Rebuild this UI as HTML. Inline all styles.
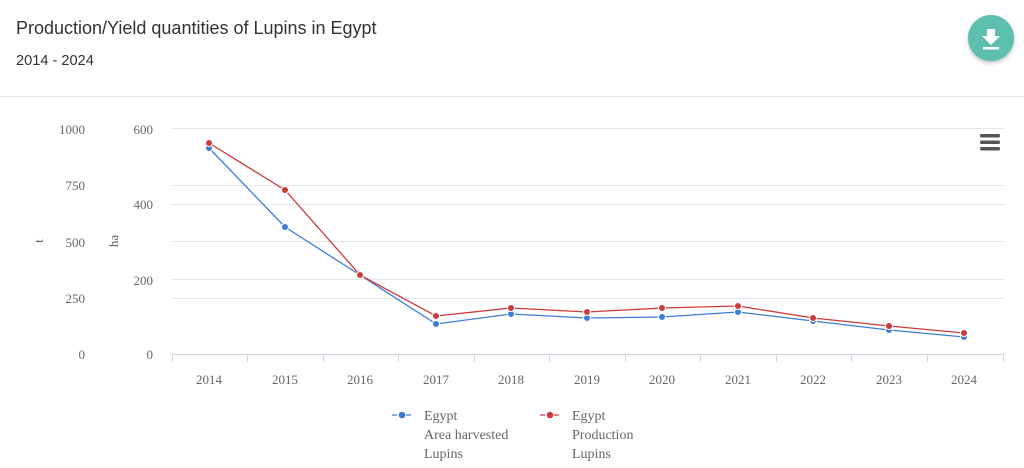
<!DOCTYPE html>
<html><head><meta charset="utf-8"><style>
body{margin:0;width:1024px;height:468px;background:#fff;font-family:"Liberation Sans",sans-serif;overflow:hidden;position:relative}
.t{position:absolute;left:16px;top:18px;font-size:18px;color:#333}
.s{position:absolute;left:16px;top:53px;font-size:14.6px;color:#333}
.hr{position:absolute;left:0;top:96px;width:1024px;height:1px;background:#e6e6e6}
.btn{position:absolute;left:968px;top:15px;width:46px;height:46px;border-radius:50%;background:#5dbfae;box-shadow:0 2px 4px rgba(0,0,0,.25)}
</style></head><body>
<div class="t">Production/Yield quantities of Lupins in Egypt</div>
<div class="s">2014 - 2024</div>
<div class="hr"></div>
<div class="btn"><svg width="46" height="46"><path d="M19 14h8v7h5l-9 9-9-9h5z" fill="#fff"/><rect x="15" y="32" width="16" height="2.5" fill="#fff"/></svg></div>
<svg width="1024" height="468" style="position:absolute;left:0;top:0" font-family="Liberation Serif,serif" font-size="13" fill="#666">
<g stroke="#e6e6e6" stroke-width="1">
<line x1="172" x2="1004" y1="128.5" y2="128.5"/><line x1="172" x2="1004" y1="185.5" y2="185.5"/>
<line x1="172" x2="1004" y1="204.5" y2="204.5"/><line x1="172" x2="1004" y1="241.5" y2="241.5"/>
<line x1="172" x2="1004" y1="279.5" y2="279.5"/><line x1="172" x2="1004" y1="298.5" y2="298.5"/>
</g>
<g stroke="#ccd6eb"><line x1="172" x2="1004" y1="354.5" y2="354.5"/>
<path d="M172.5 354v8M247.5 354v8M323.5 354v8M398.5 354v8M474.5 354v8M549.5 354v8M625.5 354v8M700.5 354v8M776.5 354v8M851.5 354v8M927.5 354v8M1003.5 354v8"/></g>
<g text-anchor="end"><text x="85" y="134">1000</text><text x="85" y="190">750</text><text x="85" y="247">500</text><text x="85" y="303">250</text><text x="85" y="359">0</text>
<text x="153" y="134">600</text><text x="153" y="209">400</text><text x="153" y="285">200</text><text x="153" y="359">0</text></g>
<text transform="translate(43,241) rotate(-90)" text-anchor="middle">t</text>
<text transform="translate(118,241) rotate(-90)" text-anchor="middle">ha</text>
<g text-anchor="middle"><text x="209" y="384">2014</text><text x="285" y="384">2015</text><text x="360" y="384">2016</text><text x="436" y="384">2017</text><text x="511" y="384">2018</text><text x="587" y="384">2019</text><text x="662" y="384">2020</text><text x="738" y="384">2021</text><text x="813" y="384">2022</text><text x="889" y="384">2023</text><text x="964" y="384">2024</text></g>
<polyline fill="none" stroke="#3d7dd8" stroke-width="1.3" points="209,148 285,227 360,275 436,324 511,314 587,318 662,317 738,312 813,321 889,330 964,337"/>
<polyline fill="none" stroke="#cc3b3b" stroke-width="1.3" points="209,143 285,190 360,275 436,316 511,308 587,312 662,308 738,306 813,318 889,326 964,333"/>
<g fill="#3d7dd8" stroke="#fff"><circle cx="209" cy="148" r="3.5"/><circle cx="285" cy="227" r="3.5"/><circle cx="360" cy="275" r="3.5"/><circle cx="436" cy="324" r="3.5"/><circle cx="511" cy="314" r="3.5"/><circle cx="587" cy="318" r="3.5"/><circle cx="662" cy="317" r="3.5"/><circle cx="738" cy="312" r="3.5"/><circle cx="813" cy="321" r="3.5"/><circle cx="889" cy="330" r="3.5"/><circle cx="964" cy="337" r="3.5"/></g>
<g fill="#cc3b3b" stroke="#fff"><circle cx="209" cy="143" r="3.5"/><circle cx="285" cy="190" r="3.5"/><circle cx="360" cy="275" r="3.5"/><circle cx="436" cy="316" r="3.5"/><circle cx="511" cy="308" r="3.5"/><circle cx="587" cy="312" r="3.5"/><circle cx="662" cy="308" r="3.5"/><circle cx="738" cy="306" r="3.5"/><circle cx="813" cy="318" r="3.5"/><circle cx="889" cy="326" r="3.5"/><circle cx="964" cy="333" r="3.5"/></g>
<g fill="#555"><rect x="980" y="134" width="20" height="3.5" rx="1.5"/><rect x="980" y="140.5" width="20" height="3.5" rx="1.5"/><rect x="980" y="147" width="20" height="3.5" rx="1.5"/></g>
<line x1="392" x2="412" y1="415" y2="415" stroke="#3d7dd8" stroke-width="1.3" stroke-dasharray="5,2"/><circle cx="402" cy="415" r="3.3" fill="#3d7dd8"/>
<line x1="540" x2="560" y1="415" y2="415" stroke="#cc3b3b" stroke-width="1.3" stroke-dasharray="5,2"/><circle cx="550" cy="415" r="3.3" fill="#cc3b3b"/>
<g font-size="14" fill="#666"><text x="424" y="420">Egypt</text><text x="424" y="439">Area harvested</text><text x="424" y="458">Lupins</text>
<text x="572" y="420">Egypt</text><text x="572" y="439">Production</text><text x="572" y="458">Lupins</text></g>
</svg>
</body></html>
